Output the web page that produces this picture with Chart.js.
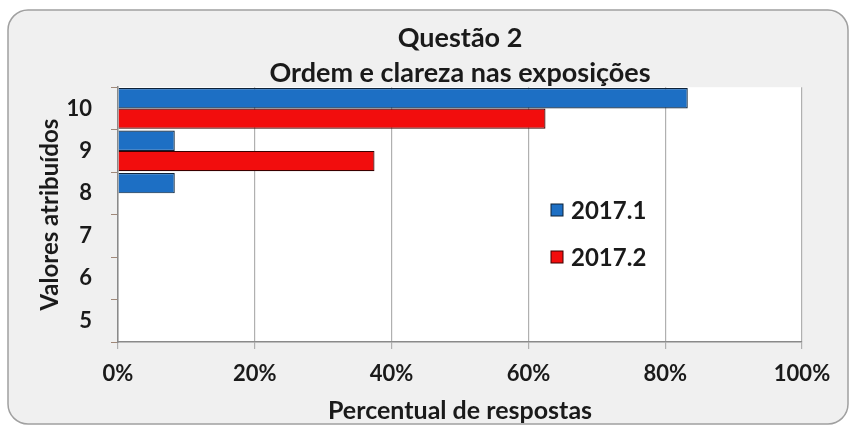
<html>
<head>
<meta charset="utf-8">
<style>html,body{margin:0;padding:0;background:#fff;}</style>
<script src="https://cdn.jsdelivr.net/npm/chart.js@4.4.0/dist/chart.umd.min.js"></script>
</head>
<body>
<canvas id="chart" width="855" height="429"></canvas>
<script>
// valores
var categorias = ['10', '9', '8', '7', '6', '5'];
var serie1 = [83.3, 8.3, 8.3, 0, 0, 0];
var serie2 = [62.5, 37.5, 0, 0, 0, 0];
var nomes = ['2017.1', '2017.2'];
var ticksX = [0, 20, 40, 60, 80, 100];

var fonte = 'Lato, "Open Sans", sans-serif';

// fundo arredondado + area branca do grafico
var fundo = {
  id: 'fundo',
  beforeDraw: function (chart) {
    var c = chart.ctx, a = chart.chartArea;
    c.save();
    c.fillStyle = '#fff';
    c.fillRect(0, 0, chart.width, chart.height);
    var x = 8, y = 10, w = 840, h = 414, r = 20;
    c.beginPath();
    c.moveTo(x + r, y);
    c.arcTo(x + w, y, x + w, y + h, r);
    c.arcTo(x + w, y + h, x, y + h, r);
    c.arcTo(x, y + h, x, y, r);
    c.arcTo(x, y, x + w, y, r);
    c.closePath();
    c.fillStyle = '#f0f0f0';
    c.fill();
    c.strokeStyle = '#a0a0a0';
    c.lineWidth = 1.5;
    c.stroke();
    c.fillStyle = '#fff';
    c.fillRect(a.left, a.top, a.right - a.left, a.bottom - a.top);
    c.restore();
  }
};

// legenda dentro da area do grafico
var legenda = {
  id: 'legenda',
  afterDraw: function (chart) {
    var c = chart.ctx;
    c.save();
    c.font = 'bold 24px ' + fonte;
    c.textBaseline = 'middle';
    chart.data.datasets.forEach(function (ds, i) {
      var y = 210 + i * 47;
      c.fillStyle = ds.backgroundColor;
      c.fillRect(551, y - 6, 12, 12);
      c.strokeStyle = ds.borderColor;
      c.lineWidth = 1;
      c.strokeRect(551, y - 6, 12, 12);
      c.fillStyle = '#1a1a1a';
      c.fillText(ds.label, 571, y + 1);
    });
    c.restore();
  }
};

new Chart(document.getElementById('chart'), {
  type: 'bar',
  data: {
    labels: categorias,
    datasets: [
      { label: nomes[0], data: serie1, backgroundColor: '#1d6fc4', borderColor: '#0d2238', borderWidth: 1.2 },
      { label: nomes[1], data: serie2, backgroundColor: '#f20d0d', borderColor: '#3a0000', borderWidth: 1.2 }
    ]
  },
  options: {
    indexAxis: 'y',
    responsive: false,
    animation: false,
    layout: { padding: { left: 0, right: 53, top: 0, bottom: 0 } },
    categoryPercentage: 0.96,
    barPercentage: 1,
    plugins: {
      legend: { display: false },
      tooltip: { enabled: false },
      title: {
        display: true,
        fullSize: false,
        text: ['Questão 2', 'Ordem e clareza nas exposições'],
        color: '#1a1a1a',
        font: { family: fonte, size: 27, weight: 'bold', lineHeight: 1.3 },
        padding: { top: 20.5, bottom: -3.5 }
      }
    },
    scales: {
      x: {
        min: 0,
        max: 100,
        afterBuildTicks: function (s) { s.ticks = ticksX.map(function (v) { return { value: v }; }); },
        afterFit: function (s) { s.height = 87; },
        grid: { color: '#b0b0b0', tickLength: 7, lineWidth: 1.2 },
        border: { color: '#8a8a8a', width: 1.5 },
        ticks: {
          color: '#1a1a1a',
          padding: 12,
          font: { family: fonte, size: 22, weight: 'bold' },
          callback: function (v) { return v + '%'; }
        },
        title: {
          display: true,
          text: 'Percentual de respostas',
          color: '#1a1a1a',
          font: { family: fonte, size: 25, weight: 'bold' },
          padding: { top: 0, bottom: 3 }
        }
      },
      y: {
        afterFit: function (s) { s.width = 118; },
        grid: { drawOnChartArea: false, color: '#a08878', tickLength: 7, offset: true },
        border: { color: '#8a8a8a', width: 1.5 },
        ticks: {
          color: '#1a1a1a',
          padding: 19,
          font: { family: fonte, size: 22, weight: 'bold' }
        },
        title: {
          display: true,
          text: 'Valores atribuídos',
          color: '#1a1a1a',
          font: { family: fonte, size: 24, weight: 'bold' },
          padding: { top: 36, bottom: 0 }
        }
      }
    }
  },
  plugins: [fundo, legenda]
});
</script>
</body>
</html>
